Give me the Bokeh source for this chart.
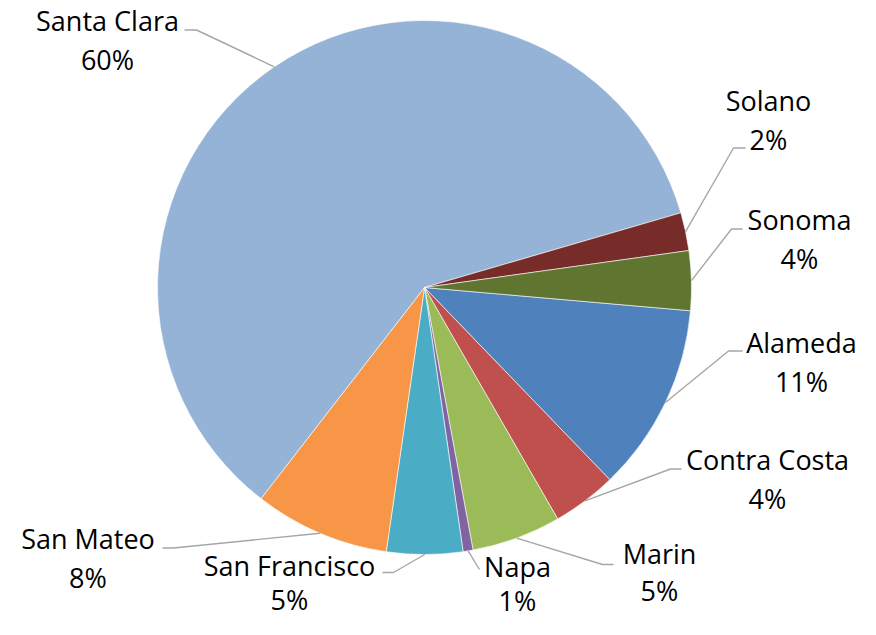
import math
from bokeh.plotting import figure
from bokeh.models import Range1d, ColumnDataSource
from bokeh.core.properties import value
from bokeh.embed import file_html
from bokeh.resources import INLINE

# ---- data ----
counties = ["Alameda", "Contra Costa", "Marin", "Napa", "San Francisco",
            "San Mateo", "Santa Clara", "Solano", "Sonoma"]
shares = [11.4, 3.9, 5.4, 0.6, 4.6, 8.2, 60.0, 2.3, 3.6]
colors = ["#4F81BD", "#C0504D", "#9BBB59", "#8064A2", "#4BACC6",
          "#F79646", "#95B3D7", "#772C2A", "#5F7530"]

# ---- layout (picture pixel coordinates) ----
FW, FH = 860, 619
DY = 0
TEXT_SHIFT = -10  # compensation for rendered text baseline
CX, CY, R = 424, 287 + DY, 267
FIRST_SLICE_ANGLE = 95  # degrees clockwise from 12 o'clock

# label: (center x, name baseline y, line gap) in picture px
label_pos = {
    "Santa Clara": (107, 30, 39),
    "Solano": (768, 110, 38.5),
    "Sonoma": (799, 228.5, 39),
    "Alameda": (801, 351.5, 39),
    "Contra Costa": (767, 468.5, 39),
    "Marin": (659, 562.5, 37.5),
    "Napa": (517, 575.5, 34),
    "San Francisco": (289, 575, 34),
    "San Mateo": (87.5, 547.5, 39),
}
# leader line: points near the label (picture px); edge point is computed
leader_pts = {
    "Santa Clara": [(184, 29.5), (196, 29.5)],
    "Solano": [(745, 147.5), (733, 147.5)],
    "Sonoma": [(742, 228.5), (731, 228.5)],
    "Alameda": [(742, 350.5), (728, 350.5)],
    "Contra Costa": [(681, 468.5), (670, 468.5)],
    "Marin": [(613, 564), (602, 564)],
    "Napa": [(479, 569)],
    "San Francisco": [(382, 572), (393, 572)],
    "San Mateo": [(162, 547.5), (173, 547.5)],
}

def sy(y):
    return FH - y

def ly(y):
    return sy(y + DY)

total = sum(shares)
start_deg = 90 - FIRST_SLICE_ANGLE
starts, ends, mids = [], [], []
a = start_deg
for s in shares:
    span = 360.0 * s / total
    b = a - span
    starts.append(math.radians(b))
    ends.append(math.radians(a))
    mids.append(math.radians((a + b) / 2))
    a = b

p = figure(width=FW, height=FH, output_backend="svg",
           toolbar_location=None, min_border=0,
           x_range=Range1d(0, FW), y_range=Range1d(0, FH))
p.axis.visible = False
p.grid.visible = False
p.outline_line_color = None
p.background_fill_color = "white"
p.border_fill_color = "white"

src = ColumnDataSource(dict(start=starts, end=ends, color=colors))
p.wedge(x=CX, y=sy(CY), radius=R, start_angle="start", end_angle="end",
        fill_color="color", line_color="white", line_width=0.6, source=src)

# leader lines
for name, m in zip(counties, mids):
    ex = CX + R * math.cos(m)
    ey = sy(CY) + R * math.sin(m)
    pts = leader_pts[name]
    xs = [q[0] for q in pts] + [ex]
    ys = [ly(q[1]) for q in pts] + [ey]
    p.line(xs, ys, line_color="#A6A6A6", line_width=1.4)

# labels
name_x, name_y, pct_y, pct_txt = [], [], [], []
for name, s in zip(counties, shares):
    lx, lb, gap = label_pos[name]
    name_x.append(lx)
    name_y.append(ly(lb + TEXT_SHIFT))
    pct_y.append(ly(lb + gap + TEXT_SHIFT))
    pct_txt.append(f"{round(s / total * 100):.0f}%")

for ys_, txt in ((name_y, counties), (pct_y, pct_txt)):
    p.text(x=name_x, y=ys_, text=txt, text_align="center",
           text_baseline="alphabetic", text_font=value("Open Sans"),
           text_font_size="27px", text_color="black")

open("out.html", "w").write(file_html(p, INLINE))
